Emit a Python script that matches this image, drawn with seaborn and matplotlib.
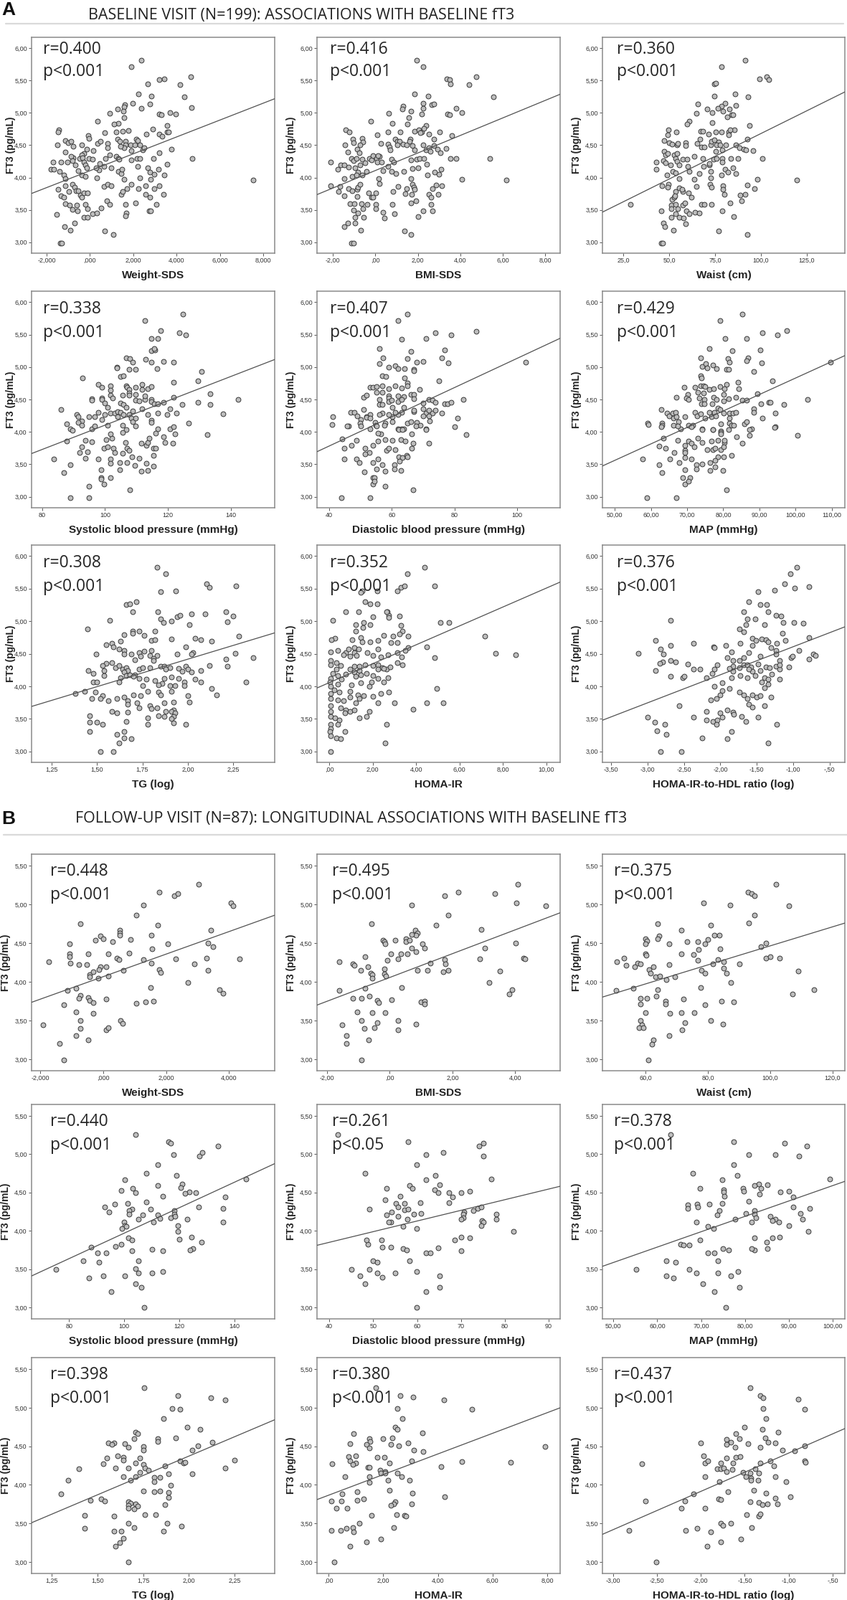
import numpy as np
import matplotlib
matplotlib.use("Agg")
import matplotlib.pyplot as plt
from matplotlib.lines import Line2D
import seaborn as sns

# ---------------- data: (x, fT3) per panel ----------------
# A: baseline visit
a_weight_sds = [(2.36,5.82),(1.92,5.72),(3.44,5.53),(3.21,5.51),(4.65,5.56),(2.67,5.45),(4.15,5.44),(2.25,5.29),(2.84,5.26),(4.36,5.25),
    (1.97,5.15),(2.77,5.14),(1.62,5.13),(1.57,5.09),(2.36,5.07),(4.69,5.08),(1.29,5.06),(1.55,5.03),(0.90,4.99),(3.19,4.98),
    (3.30,4.97),(3.69,5.01),(3.95,4.98),(1.57,4.93),(0.35,4.87),(1.30,4.84),(1.10,4.83),(2.90,4.75),(1.76,4.73),(1.52,4.72),
    (1.21,4.70),(3.57,4.80),(3.57,4.71),(3.63,4.70),(0.68,4.69),(2.60,4.67),(3.21,4.67),(3.34,4.64),(-1.43,4.74),(-1.48,4.70),
    (3.76,4.44),(3.55,4.21),(4.73,4.30),(7.53,3.96),(-1.51,4.50),(-1.13,4.57),(-1.0,4.54),(-0.88,4.56),(-0.77,4.48),(-0.38,4.51),
    (-0.16,4.44),(-1.13,4.39),(-0.09,4.65),(-0.05,4.61),(0.14,4.42),(0.35,4.53),(0.47,4.56),(0.80,4.53),(0.82,4.46),(1.27,4.59),
    (1.37,4.56),(1.63,4.56),(1.65,4.50),(1.58,4.46),(1.41,4.48),(1.87,4.50),(2.07,4.50),(2.15,4.59),(2.22,4.57),(2.31,4.50),
    (2.42,4.43),(2.51,4.46),(1.89,4.42),(3.19,4.38),(-1.69,4.24),(-1.34,4.24),(-1.04,4.24),(-0.77,4.31),(-0.88,4.33),(-0.82,4.26),
    (-0.66,4.19),(-0.55,4.11),(-0.49,4.30),(-0.27,4.37),(-0.38,4.35),(-0.33,4.31),(-0.27,4.24),(-0.22,4.19),(-0.14,4.15),(-0.05,4.30),
    (0.11,4.28),(0.44,4.22),(0.42,4.12),(0.27,4.15),(0.66,4.17),(0.70,4.30),(0.93,4.35),(1.21,4.33),(1.30,4.30),(1.34,4.28),
    (-1.79,4.13),(-1.68,4.13),(-1.40,4.10),(-1.19,4.04),(-1.13,3.98),(-0.38,4.04),(-0.20,4.02),(0.33,4.00),(0.99,4.15),(1.30,4.09),
    (1.43,4.06),(1.48,4.13),(1.57,3.97),(1.92,4.27),(2.16,4.29),(2.31,4.29),(2.20,4.17),(2.66,4.15),(2.75,4.08),(2.93,4.30),
    (2.97,4.05),(3.16,4.13),(3.44,4.04),(2.31,3.99),(2.80,3.97),(-1.46,3.82),(-1.13,3.87),(-0.82,3.89),(-0.71,3.85),(-0.63,3.80),
    (-0.53,3.80),(-1.32,3.72),(-1.21,3.69),(-0.97,3.78),(-0.44,3.73),(-0.38,3.69),(-0.27,3.76),(-0.11,3.76),(-1.13,3.60),(-0.93,3.57),
    (-0.60,3.57),(-0.22,3.59),(-0.79,3.51),(-0.57,3.48),(-0.11,3.52),(-1.54,3.43),(-0.27,3.39),(-0.11,3.38),(0.13,3.44),(0.33,3.45),
    (0.53,3.53),(0.66,3.86),(0.82,3.89),(0.99,3.87),(0.79,3.64),(0.90,3.59),(1.43,3.74),(1.52,3.78),(1.70,3.83),(1.90,3.89),
    (1.63,3.59),(1.68,3.45),(1.63,3.41),(2.11,3.61),(2.25,3.83),(2.58,3.87),(2.58,3.74),(2.75,3.69),(2.97,3.83),(3.19,3.87),
    (3.38,3.74),(3.08,3.59),(2.72,3.49),(2.80,3.49),(-1.16,3.24),(-0.92,3.19),(-0.69,3.30),(0.68,3.17),(1.08,3.12),(-1.37,2.99),(-1.29,2.99)]

a_bmi_sds = [(1.93,5.82),(2.24,5.72),(3.38,5.53),(3.51,5.51),(3.53,5.45),(4.40,5.44),(4.76,5.56),(5.55,5.25),(1.85,5.29),(2.50,5.26),
    (2.26,5.15),(2.26,5.07),(2.65,5.13),(2.76,5.14),(1.29,5.10),(1.28,5.06),(1.66,5.03),(1.57,4.93),(2.17,4.98),(0.64,4.99),
    (-0.20,4.87),(3.39,4.98),(3.51,4.97),(3.80,5.07),(4.06,5.01),(1.49,4.83),(0.80,4.84),(-1.39,4.74),(-1.22,4.70),(1.86,4.72),
    (2.06,4.74),(2.19,4.71),(2.38,4.81),(2.28,4.76),(2.10,4.69),(2.51,4.67),(3.02,4.71),(3.60,4.65),(3.32,4.45),(1.18,4.71),
    (0.59,4.70),(0.10,4.66),(-1.05,4.59),(-1.02,4.54),(-0.61,4.61),(-0.60,4.55),(-0.71,4.50),(-0.86,4.44),(-1.42,4.50),(-1.29,4.39),
    (-0.75,4.38),(0.25,4.53),(0.61,4.52),(0.67,4.47),(0.92,4.59),(1.03,4.56),(1.14,4.56),(1.02,4.50),(0.70,4.43),(1.31,4.52),
    (1.46,4.50),(1.63,4.59),(1.60,4.56),(1.74,4.49),(1.83,4.43),(2.25,4.50),(2.38,4.43),(2.51,4.46),(2.59,4.41),(2.76,4.49),
    (2.76,4.59),(2.93,4.44),(3.05,4.38),(-2.10,4.24),(-1.76,4.13),(-1.63,4.19),(-1.45,4.19),(-1.28,4.16),(-1.14,4.30),(-1.03,4.26),
    (-0.97,4.15),(-0.90,4.29),(-0.82,4.08),(-0.63,4.28),(-0.50,4.23),(-0.71,4.19),(-0.41,4.09),(-0.27,4.30),(-0.18,4.27),(-0.12,4.34),
    (0.05,4.30),(0.19,4.33),(0.12,4.34),(0.08,4.24),(0.29,4.24),(0.36,4.11),(0.59,4.17),(0.76,4.28),(0.87,4.24),(0.75,4.09),
    (0.95,4.06),(1.34,4.10),(1.68,4.27),(1.73,4.14),(1.94,4.28),(2.08,4.30),(2.27,4.30),(2.00,4.15),(2.42,4.21),(2.46,4.04),
    (2.80,4.08),(2.98,4.05),(3.08,4.13),(3.53,4.29),(3.81,4.30),(5.39,4.30),(6.18,3.96),(4.06,3.97),(-2.10,3.87),(-1.67,3.86),
    (-1.72,3.78),(-1.45,3.72),(-1.45,3.98),(-1.28,3.83),(-1.08,3.80),(-0.86,3.82),(-0.84,3.85),(-0.72,3.90),(-1.08,4.02),(-0.88,4.04),
    (-0.63,4.04),(0.16,3.98),(0.19,3.91),(-0.32,3.76),(-0.18,3.69),(0.01,3.76),(-0.12,3.70),(0.84,3.78),(1.06,3.86),(1.40,3.75),
    (1.68,3.98),(1.73,3.89),(1.80,3.85),(1.46,3.83),(1.71,3.74),(1.85,3.82),(2.53,3.74),(2.61,3.69),(2.70,3.83),(2.85,3.88),
    (2.96,3.74),(3.12,3.87),(-1.18,3.60),(-1.00,3.60),(-0.86,3.71),(-1.03,3.50),(-0.95,3.39),(-0.67,3.60),(-0.60,3.52),(-0.81,3.45),
    (-0.54,3.39),(-0.37,3.59),(0.01,3.59),(0.02,3.52),(0.36,3.46),(0.41,3.37),(0.81,3.59),(0.89,3.44),(1.68,3.61),(1.91,3.64),
    (2.00,3.40),(2.25,3.49),(2.63,3.59),(2.70,3.49),(-1.45,3.24),(-1.31,3.30),(-0.95,3.30),(-0.69,3.19),(1.37,3.17),(1.68,3.12),
    (-1.14,2.99),(-1.02,2.99)]

a_waist = [(91.4,5.82),(78.6,5.72),(99.3,5.53),(103.3,5.56),(104.2,5.51),(74.5,5.45),(75.3,5.46),(86.1,5.29),(74.6,5.26),(93.0,5.25),
    (65.6,5.14),(80.4,5.15),(86.5,5.12),(78.4,5.11),(79.2,5.03),(76.4,5.07),(70.6,5.06),(73.6,5.01),(64.7,4.99),(82.7,5.06),
    (83.9,4.97),(84.6,4.97),(81.6,4.94),(61.1,4.87),(59.8,4.83),(73.4,4.85),(49.7,4.74),(53.8,4.70),(67.3,4.72),(68.5,4.72),
    (71.6,4.67),(75.4,4.71),(78.6,4.70),(82.6,4.70),(85.6,4.74),(83.4,4.74),(82.3,4.66),(93.7,4.80),(92.5,4.59),(49.1,4.66),
    (47.4,4.57),(50.1,4.54),(51.6,4.52),(54.2,4.50),(54.7,4.53),(58.9,4.54),(58.9,4.49),(66.7,4.59),(67.7,4.47),(65.1,4.53),
    (69.0,4.47),(72.5,4.50),(73.2,4.56),(74.8,4.58),(76.8,4.55),(75.8,4.51),(75.4,4.41),(77.9,4.51),(79.0,4.43),(80.9,4.50),
    (86.3,4.50),(88.2,4.46),(90.5,4.44),(91.8,4.43),(95.7,4.42),(100.6,4.30),(47.1,4.41),(47.9,4.35),(49.4,4.37),(52.7,4.35),
    (54.5,4.37),(42.8,4.24),(42.9,4.13),(46.7,4.26),(48.0,4.23),(50.8,4.20),(53.6,4.30),(54.5,4.25),(55.3,4.19),(57.6,4.28),
    (59.9,4.28),(60.2,4.17),(61.1,4.10),(63.8,4.33),(68.5,4.30),(68.9,4.17),(72.0,4.19),(72.5,4.10),(71.7,4.22),(74.4,4.28),
    (75.8,4.29),(79.1,4.30),(79.1,4.24),(80.4,4.13),(82.1,4.08),(83.6,4.30),(84.6,4.15),(87.5,4.29),(86.5,4.06),(48.7,4.04),
    (52.0,4.09),(53.4,4.07),(55.6,3.98),(63.8,3.97),(66.4,4.06),(72.5,3.99),(78.4,4.04),(98.2,3.97),(119.7,3.96),(29.1,3.59),
    (46.1,3.87),(49.7,3.90),(49.3,3.85),(53.6,3.78),(55.6,3.84),(57.3,3.78),(56.9,3.82),(60.4,3.76),(62.1,3.70),(64.7,3.86),
    (72.3,3.90),(73.2,3.85),(79.4,3.87),(79.4,3.82),(80.1,3.74),(88.5,3.73),(91.4,3.74),(92.4,3.88),(96.3,3.83),(51.6,3.66),
    (52.9,3.70),(53.1,3.72),(51.3,3.57),(53.6,3.59),(57.5,3.57),(58.5,3.61),(45.8,3.49),(51.3,3.52),(54.7,3.52),(59.2,3.49),
    (60.9,3.44),(51.0,3.39),(53.4,3.44),(55.3,3.39),(57.9,3.37),(64.2,3.46),(66.4,3.45),(67.4,3.59),(69.0,3.59),(73.2,3.59),
    (79.0,3.49),(83.3,3.61),(85.2,3.40),(89.5,3.64),(58.9,3.29),(46.7,3.30),(47.7,3.24),(52.3,3.19),(76.8,3.17),(92.4,3.12),
    (45.6,2.99),(46.4,2.99)]

a_systolic = [(124.7,5.82),(112.7,5.72),(117.7,5.56),(123.6,5.53),(125.6,5.50),(114.7,5.44),(116.7,5.44),(114.7,5.25),(115.8,5.26),(115.7,5.29),
    (106.7,5.14),(107.8,5.13),(108.7,5.07),(112.8,5.12),(114.7,5.07),(118.7,5.09),(121.7,5.07),(103.8,5.00),(103.8,4.99),(107.7,4.97),
    (109.7,4.97),(116.6,4.98),(130.6,4.93),(104.8,4.85),(105.8,4.87),(92.9,4.83),(129.6,4.79),(121.7,4.76),(97.8,4.73),(98.9,4.69),
    (101.7,4.71),(101.7,4.64),(101.7,4.57),(106.7,4.71),(106.9,4.69),(107.7,4.66),(107.7,4.60),(107.7,4.57),(109.7,4.69),(111.7,4.73),
    (111.7,4.66),(113.7,4.67),(114.7,4.70),(105.7,4.57),(109.7,4.58),(95.8,4.51),(95.8,4.49),(98.9,4.52),(98.9,4.50),(99.8,4.45),
    (102.5,4.52),(100.8,4.38),(104.8,4.44),(105.8,4.42),(106.8,4.38),(109.7,4.49),(110.8,4.48),(112.7,4.50),(112.7,4.55),(114.7,4.50),
    (114.7,4.47),(111.7,4.36),(115.7,4.43),(116.7,4.43),(118.7,4.46),(121.7,4.53),(124.6,4.42),(120.7,4.36),(133.5,4.59),(129.5,4.46),
    (133.4,4.42),(142.4,4.50),(137.6,4.28),(85.9,4.34),(90.9,4.27),(91.5,4.24),(92.6,4.17),(91.5,4.15),(92.6,4.10),(94.9,4.24),
    (95.8,4.05),(96.8,4.09),(97.8,4.30),(99.8,4.27),(98.9,4.19),(96.8,4.24),(101.7,4.29),(103.0,4.29),(103.9,4.31),(104.8,4.30),
    (103.9,4.24),(105.8,4.27),(108.7,4.32),(107.7,4.27),(108.3,4.21),(108.7,4.16),(109.7,4.21),(109.7,4.09),(113.7,4.27),(114.7,4.18),
    (114.7,4.15),(116.7,4.29),(116.7,4.05),(119.7,4.27),(120.7,4.05),(121.7,4.08),(122.7,4.29),(126.6,4.13),(87.7,4.12),(89.0,4.05),
    (100.8,4.10),(105.7,4.10),(106.7,4.04),(89.7,4.02),(87.7,3.86),(93.7,3.87),(95.8,3.85),(92.6,3.77),(91.9,3.68),(94.3,3.69),
    (83.7,3.58),(93.7,3.59),(97.8,3.58),(99.7,3.75),(100.9,3.77),(102.1,3.90),(101.8,3.97),(100.4,3.88),(102.6,3.75),(103.1,3.68),
    (105.7,3.67),(106.5,3.84),(107.0,3.75),(107.7,3.71),(105.7,3.99),(108.6,3.62),(107.0,3.53),(104.7,3.53),(101.8,3.58),(101.8,3.52),
    (110.8,3.59),(111.5,3.82),(113.2,3.79),(113.7,3.84),(114.1,3.90),(115.5,3.75),(116.1,3.75),(115.3,3.64),(113.2,3.52),(115.5,3.47),
    (118.5,3.92),(119.1,3.84),(121.5,3.83),(122.3,3.97),(132.6,3.96),(116.1,3.98),(88.9,3.49),(109.5,3.48),(86.8,3.37),(98.7,3.42),
    (104.7,3.42),(111.5,3.39),(113.7,3.40),(98.7,3.30),(98.7,3.27),(101.8,3.29),(99.7,3.19),(94.9,3.16),(107.8,3.11),(88.9,2.98),
    (94.9,2.98)]

a_diastolic = [(65.0,5.82),(62.0,5.72),(63.0,5.43),(71.0,5.44),(73.9,5.53),(78.9,5.50),(86.9,5.55),(102.8,5.07),(56.0,5.29),(66.0,5.24),
    (57.1,5.14),(64.9,5.13),(67.9,5.07),(70.0,5.09),(76.8,5.26),(75.9,5.14),(78.0,5.06),(56.0,5.05),(58.9,5.00),(61.0,5.02),
    (62.0,4.98),(64.0,4.98),(67.1,4.97),(67.1,4.94),(74.9,4.79),(57.0,4.87),(58.0,4.85),(64.0,4.83),(53.0,4.69),(54.0,4.69),
    (55.1,4.70),(57.0,4.71),(58.9,4.67),(61.0,4.71),(63.0,4.68),(65.0,4.75),(65.0,4.71),(68.9,4.66),(55.1,4.61),(57.0,4.61),
    (50.9,4.53),(51.9,4.57),(56.1,4.50),(56.1,4.42),(57.0,4.42),(58.9,4.56),(58.9,4.52),(58.9,4.47),(60.0,4.49),(60.1,4.38),
    (62.0,4.47),(62.0,4.55),(63.9,4.54),(63.0,4.50),(66.0,4.58),(67.1,4.58),(66.9,4.51),(70.0,4.44),(70.0,4.36),(71.9,4.50),
    (72.9,4.49),(73.9,4.46),(76.8,4.43),(77.8,4.43),(78.9,4.46),(82.8,4.50),(71.0,4.29),(71.9,4.33),(72.9,4.29),(73.9,4.33),
    (75.9,4.29),(71.9,4.25),(70.0,4.25),(67.1,4.31),(67.1,4.33),(63.9,4.38),(63.0,4.30),(62.0,4.27),(61.0,4.30),(60.1,4.24),
    (58.9,4.27),(57.0,4.29),(56.1,4.27),(53.0,4.27),(52.0,4.24),(50.9,4.34),(46.9,4.30),(47.9,4.30),(48.9,4.25),(50.0,4.19),
    (49.8,4.13),(52.0,4.22),(53.0,4.21),(54.7,4.15),(54.9,4.10),(57.9,4.14),(60.1,4.16),(62.0,4.05),(63.0,4.05),(63.9,4.05),
    (65.0,4.14),(66.0,4.16),(67.9,4.15),(69.1,4.10),(71.0,4.05),(72.0,4.17),(80.9,4.21),(80.0,4.08),(41.1,4.24),(46.1,4.09),
    (53.0,4.05),(40.9,4.11),(45.7,4.09),(50.0,4.09),(55.1,4.09),(57.6,4.10),(62.1,4.04),(63.3,4.04),(67.8,4.09),(71.0,4.04),
    (83.8,3.96),(44.1,3.89),(48.7,3.87),(44.9,3.75),(47.0,3.79),(51.5,3.75),(53.9,3.79),(55.6,3.86),(56.5,3.97),(57.8,3.88),
    (60.2,3.87),(61.1,3.73),(58.2,3.72),(59.1,3.75),(62.8,3.88),(64.2,3.86),(66.3,3.97),(66.3,3.75),(66.7,3.83),(71.9,3.82),
    (55.6,3.98),(52.7,3.68),(51.4,3.66),(44.9,3.58),(48.7,3.58),(49.6,3.53),(53.9,3.53),(55.6,3.58),(62.1,3.62),(63.3,3.60),
    (64.6,3.64),(65.0,3.61),(62.5,3.55),(60.8,3.49),(57.0,3.49),(51.3,3.38),(55.1,3.43),(57.8,3.39),(60.8,3.43),(62.8,3.40),
    (53.9,3.29),(54.4,3.29),(53.9,3.20),(54.4,3.24),(57.8,3.16),(66.8,3.11),(43.9,2.98),(53.0,2.98)]

a_map = [(85.2,5.82),(79.1,5.72),(90.8,5.53),(94.9,5.50),(97.5,5.56),(80.4,5.44),(86.5,5.44),(76.2,5.29),(82.5,5.25),(90.2,5.26),
    (73.7,5.14),(81.2,5.13),(81.7,5.07),(86.8,5.14),(86.5,5.10),(90.6,5.06),(109.6,5.07),(74.1,5.01),(75.1,5.05),(75.5,4.99),
    (77.1,5.03),(78.1,4.98),(80.8,4.96),(81.5,4.96),(88.5,4.93),(73.7,4.87),(73.9,4.83),(93.6,4.79),(84.1,4.76),(69.1,4.69),
    (72.1,4.69),(73.8,4.71),(74.5,4.71),(74.9,4.70),(76.2,4.66),(77.3,4.67),(79.1,4.70),(80.8,4.73),(80.3,4.67),(84.2,4.67),
    (72.9,4.61),(74.6,4.60),(70.2,4.58),(69.7,4.52),(70.4,4.50),(67.1,4.53),(73.4,4.52),(74.8,4.50),(73.9,4.43),(74.8,4.43),
    (77.3,4.53),(78.2,4.50),(77.0,4.43),(80.1,4.58),(80.1,4.48),(81.4,4.51),(83.5,4.53),(85.3,4.49),(86.5,4.49),(89.5,4.59),
    (90.4,4.43),(92.5,4.46),(92.9,4.46),(96.8,4.42),(103.3,4.50),(62.8,4.34),(64.5,4.29),(65.0,4.25),(66.1,4.29),(66.9,4.30),
    (66.2,4.21),(67.1,4.24),(67.6,4.16),(69.4,4.24),(72.1,4.30),(72.7,4.25),(73.7,4.28),(74.9,4.21),(76.1,4.30),(76.7,4.24),
    (77.6,4.30),(77.9,4.25),(78.6,4.37),(79.1,4.34),(80.1,4.29),(81.6,4.29),(82.6,4.29),(83.5,4.30),(81.7,4.21),(88.5,4.36),
    (88.5,4.30),(90.8,4.21),(94.3,4.29),(59.0,4.13),(63.1,4.13),(63.1,4.10),(66.3,4.10),(68.3,4.05),(70.3,4.10),(71.6,4.10),
    (74.1,4.05),(77.1,4.04),(79.4,4.12),(79.4,4.01),(81.6,4.14),(82.2,4.10),(82.8,4.10),(85.8,4.12),(86.5,4.16),(87.8,4.05),
    (94.3,4.08),(59.2,4.11),(62.9,4.08),(67.4,4.09),(71.1,4.08),(74.1,4.04),(77.1,4.04),(79.3,3.99),(79.3,3.97),(81.5,4.03),
    (87.2,4.04),(94.2,4.07),(100.6,3.95),(87.2,3.95),(63.4,3.90),(67.4,3.87),(70.4,3.86),(71.1,3.83),(72.9,3.90),(74.1,3.84),
    (76.8,3.86),(78.6,3.87),(80.3,3.84),(80.3,3.87),(83.7,3.92),(85.2,3.82),(62.2,3.78),(64.1,3.75),(66.4,3.68),(69.3,3.79),
    (69.3,3.72),(69.3,3.68),(71.9,3.77),(75.6,3.73),(77.1,3.73),(77.8,3.75),(79.3,3.73),(80.1,3.77),(78.6,3.62),(80.1,3.61),
    (82.3,3.64),(57.7,3.58),(65.2,3.58),(67.9,3.53),(69.3,3.60),(71.1,3.58),(72.6,3.49),(74.1,3.50),(77.8,3.56),(76.3,3.53),
    (62.2,3.49),(63.1,3.37),(69.3,3.42),(68.9,3.29),(70.8,3.29),(69.3,3.20),(70.3,3.24),(72.6,3.43),(76.3,3.40),(77.8,3.46),
    (80.0,3.40),(80.8,3.11),(58.9,2.98),(67.0,2.98)]

a_tg_log = [(1.829,5.83),(1.879,5.73),(1.852,5.45),(1.932,5.46),(2.105,5.58),(2.12,5.52),(2.265,5.54),(1.66,5.25),(1.68,5.27),(1.716,5.30),
    (1.695,5.14),(1.835,5.15),(1.85,5.04),(1.866,4.98),(1.91,5.00),(1.94,5.07),(1.956,5.09),(2.02,5.11),(2.096,5.11),(2.21,5.14),
    (2.25,5.08),(2.22,4.99),(1.568,5.01),(1.446,4.88),(1.695,4.85),(1.73,4.85),(1.82,4.85),(2.01,4.95),(2.28,4.77),(1.65,4.79),
    (1.695,4.81),(1.76,4.78),(1.80,4.70),(1.82,4.72),(1.91,4.73),(2.04,4.74),(2.07,4.71),(2.13,4.69),(1.55,4.64),(1.58,4.66),
    (1.63,4.69),(1.59,4.60),(1.62,4.57),(1.65,4.55),(1.69,4.49),(1.65,4.49),(1.73,4.52),(1.74,4.46),(1.76,4.54),(1.80,4.55),
    (1.79,4.47),(1.83,4.47),(1.81,4.43),(1.71,4.41),(1.99,4.61),(2.03,4.52),(2.02,4.49),(1.94,4.50),(2.21,4.42),(2.26,4.51),
    (2.36,4.44),(1.496,4.50),(1.55,4.35),(1.53,4.32),(1.58,4.36),(1.60,4.29),(1.62,4.32),(1.64,4.26),(1.66,4.29),(1.67,4.24),
    (1.65,4.22),(1.66,4.16),(1.68,4.18),(1.71,4.18),(1.73,4.26),(1.75,4.29),(1.79,4.29),(1.81,4.39),(1.85,4.31),(1.87,4.31),
    (1.90,4.29),(1.88,4.26),(1.95,4.27),(1.99,4.31),(2.00,4.26),(2.02,4.22),(1.97,4.23),(2.07,4.24),(2.12,4.32),(2.22,4.31),
    (1.54,4.16),(1.48,4.06),(1.50,4.06),(1.45,4.24),(1.48,4.20),(1.54,4.24),(1.63,4.13),(1.62,4.07),(1.70,4.15),(1.73,4.12),
    (1.77,4.11),(1.82,4.09),(1.86,4.04),(1.87,4.12),(1.91,4.14),(1.95,4.12),(1.98,4.06),(2.04,4.11),(2.07,4.07),(2.32,4.07),
    (2.13,3.97),(2.16,3.87),(1.38,3.89),(1.43,3.92),(1.49,3.91),(1.53,3.85),(1.47,3.81),(1.52,3.81),(1.56,3.78),(1.61,3.81),
    (1.65,3.83),(1.70,3.87),(1.67,3.78),(1.72,3.75),(1.67,3.72),(1.75,4.01),(1.74,3.85),(1.78,3.92),(1.84,4.02),(1.84,3.91),
    (1.85,3.87),(1.90,4.01),(1.91,3.92),(1.93,4.01),(1.98,4.01),(2.00,3.85),(2.01,3.76),(1.92,3.76),(1.87,3.74),(1.79,3.70),
    (1.83,3.67),(1.73,3.67),(1.92,3.63),(1.91,3.61),(1.88,3.61),(1.93,3.59),(1.92,3.54),(1.87,3.54),(1.84,3.55),(1.80,3.66),
    (1.78,3.51),(1.78,3.41),(1.91,3.50),(1.92,3.44),(1.99,3.41),(1.67,3.60),(1.61,3.59),(1.58,3.61),(1.66,3.46),(1.53,3.41),
    (1.46,3.55),(1.46,3.45),(1.50,3.45),(1.46,3.30),(1.61,3.26),(1.65,3.30),(1.65,3.20),(1.69,3.19),(1.62,3.13),(1.52,3.00),
    (1.59,3.00)]

a_homa_ir = [(4.39,5.83),(3.60,5.73),(3.30,5.52),(3.47,5.54),(4.86,5.54),(3.13,5.47),(1.51,5.46),(2.21,5.46),(1.64,5.30),(1.89,5.27),
    (2.21,5.27),(1.44,5.44),(0.77,5.15),(1.34,5.15),(2.01,5.07),(2.68,5.15),(2.75,5.09),(3.25,5.08),(2.73,5.06),(0.15,5.01),
    (1.59,4.98),(1.89,4.95),(1.22,4.95),(1.56,4.90),(1.22,4.85),(5.11,4.98),(5.53,4.98),(3.37,4.85),(3.30,4.94),(2.65,5.14),
    (7.17,4.77),(2.93,4.77),(2.83,4.67),(0.27,4.74),(0.10,4.72),(1.07,4.72),(1.46,4.75),(1.51,4.68),(2.26,4.70),(1.89,4.68),
    (2.51,4.78),(3.25,4.80),(3.62,4.77),(3.13,4.67),(3.62,4.59),(4.49,4.61),(3.50,4.55),(0.07,4.53),(0.40,4.55),(0.77,4.52),
    (0.89,4.57),(1.14,4.59),(1.34,4.57),(1.14,4.52),(0.65,4.48),(0.97,4.46),(1.27,4.47),(1.76,4.52),(2.01,4.47),(2.26,4.57),
    (2.38,4.45),(2.70,4.48),(3.13,4.52),(3.33,4.45),(4.86,4.44),(7.67,4.51),(8.59,4.48),(0.07,4.39),(0.07,4.33),(0.32,4.26),
    (0.52,4.32),(0.32,4.36),(0.15,4.20),(0.40,4.16),(0.77,4.19),(1.14,4.31),(1.39,4.31),(1.64,4.33),(2.01,4.32),(2.26,4.33),
    (2.46,4.29),(2.63,4.26),(2.80,4.30),(3.13,4.36),(3.37,4.33),(0.97,4.26),(1.14,4.22),(1.39,4.24),(1.46,4.18),(1.71,4.20),
    (2.01,4.16),(2.26,4.26),(2.51,4.27),(1.22,4.15),(0.57,4.11),(0.07,4.12),(0.02,4.06),(0.40,4.03),(0.07,4.00),(1.02,4.02),
    (1.46,4.05),(1.96,4.07),(2.26,4.12),(2.70,4.13),(2.51,4.07),(1.84,4.00),(0.22,3.94),(0.07,3.89),(0.47,3.91),(0.97,3.92),
    (1.32,3.87),(1.59,3.86),(2.38,3.89),(2.75,3.91),(4.94,3.97),(0.07,3.81),(0.40,3.79),(0.65,3.78),(0.97,3.83),(1.22,3.75),
    (1.39,3.81),(2.01,3.84),(2.26,3.75),(3.00,3.75),(4.49,3.75),(5.24,3.75),(0.07,3.70),(0.52,3.67),(0.77,3.64),(0.72,3.59),
    (0.97,3.61),(1.14,3.63),(1.84,3.61),(0.07,3.61),(3.87,3.65),(0.07,3.54),(0.27,3.51),(0.47,3.48),(1.39,3.51),(1.71,3.54),
    (0.07,3.41),(0.40,3.41),(0.07,3.35),(0.02,3.30),(0.07,3.24),(0.72,3.30),(0.32,3.20),(0.52,3.19),(2.63,3.41),(2.56,3.13),
    (0.07,3.00)]

a_homa_hdl_log = [(-0.95,5.83),(-1.04,5.73),(-1.12,5.58),(-0.78,5.53),(-0.98,5.51),(-1.26,5.48),(-1.48,5.45),(-1.61,5.30),(-1.45,5.26),(-1.36,5.26),
    (-1.68,5.15),(-1.34,5.14),(-1.24,5.09),(-1.17,5.08),(-2.68,5.01),(-1.63,5.04),(-1.52,5.03),(-1.14,4.98),(-0.99,4.98),(-0.86,4.97),
    (-1.65,4.95),(-1.74,4.88),(-1.68,4.84),(-1.39,4.95),(-2.37,4.66),(-2.89,4.70),(-3.13,4.51),(-2.82,4.57),(-2.78,4.50),(-2.68,4.63),
    (-2.62,4.37),(-2.79,4.37),(-2.83,4.35),(-2.68,4.40),(-2.89,4.24),(-2.68,4.15),(-2.52,4.13),(-2.50,4.15),(-2.37,4.26),(-2.28,4.26),
    (-2.45,4.34),(-2.19,4.13),(-2.11,4.20),(-2.08,4.26),(-2.04,4.33),(-2.09,4.61),(-2.08,4.59),(-1.93,4.63),(-1.85,4.53),(-1.91,4.44),
    (-1.83,4.40),(-1.74,4.39),(-1.68,4.44),(-1.61,4.52),(-1.56,4.63),(-1.73,4.66),(-1.56,4.74),(-1.51,4.70),(-1.43,4.73),(-1.37,4.71),
    (-1.34,4.68),(-1.30,4.59),(-1.23,4.66),(-1.15,4.81),(-1.11,4.70),(-1.24,4.55),(-1.45,4.46),(-1.24,4.50),(-1.19,4.39),(-1.03,4.44),
    (-1.01,4.46),(-0.92,4.55),(-0.78,4.42),(-0.78,4.75),(-0.72,4.50),(-0.69,4.47),(-1.68,4.33),(-1.63,4.33),(-1.58,4.30),(-1.74,4.29),
    (-1.83,4.31),(-1.88,4.27),(-1.83,4.23),(-1.56,4.23),(-1.61,4.26),(-1.73,4.16),(-1.63,4.13),(-1.52,4.16),(-1.48,4.34),(-1.45,4.24),
    (-1.37,4.30),(-1.32,4.28),(-1.24,4.31),(-1.19,4.26),(-1.29,4.19),(-1.39,4.13),(-1.43,4.07),(-1.34,4.11),(-1.19,4.11),(-1.34,4.03),
    (-1.39,3.98),(-1.19,4.33),(-1.06,4.30),(-1.85,4.13),(-1.97,4.05),(-2.08,4.00),(-1.88,3.97),(-1.74,3.91),(-1.68,3.87),(-1.63,3.81),
    (-1.56,3.87),(-1.50,3.83),(-1.45,3.85),(-1.61,3.72),(-1.56,3.68),(-1.39,3.70),(-1.30,3.83),(-1.97,3.93),(-2.00,3.87),(-2.05,3.81),
    (-2.13,3.79),(-1.91,3.63),(-1.83,3.60),(-2.00,3.59),(-2.19,3.61),(-2.57,3.70),(-3.00,3.52),(-2.90,3.45),(-2.76,3.41),(-2.87,3.32),
    (-2.74,3.26),(-2.37,3.52),(-2.19,3.48),(-2.10,3.46),(-2.04,3.48),(-1.97,3.52),(-1.82,3.57),(-1.71,3.54),(-1.65,3.46),(-1.48,3.52),
    (-2.05,3.41),(-1.85,3.30),(-2.25,3.20),(-1.91,3.19),(-1.34,3.13),(-1.23,3.41),(-2.82,3.00),(-2.54,3.00)]

# B: follow-up visit
b_weight_sds = [(3.03,5.26),(1.77,5.16),(2.25,5.11),(2.37,5.14),(1.28,4.99),(4.07,5.02),(4.12,4.98),(1.04,4.86),(-0.73,4.75),(1.73,4.73),
    (0.52,4.67),(0.52,4.63),(0.52,4.60),(1.53,4.60),(3.43,4.67),(-0.09,4.59),(0.0,4.56),(0.29,4.52),(-0.26,4.54),(0.87,4.55),
    (-1.07,4.49),(2.05,4.49),(3.34,4.50),(3.48,4.45),(1.56,4.43),(-1.07,4.36),(-1.07,4.32),(-0.49,4.36),(0.17,4.36),(0.43,4.31),
    (0.81,4.37),(0.50,4.29),(1.27,4.29),(2.30,4.30),(3.29,4.31),(4.33,4.30),(-1.73,4.26),(-1.04,4.24),(-0.78,4.22),(-0.52,4.22),
    (-0.09,4.19),(-0.14,4.16),(0.09,4.19),(0.64,4.15),(1.79,4.16),(1.53,4.24),(1.82,4.12),(2.89,4.23),(3.34,4.15),(-0.43,4.09),
    (-0.43,4.06),(-0.17,4.05),(0.17,4.07),(-0.31,4.13),(2.69,3.99),(-1.13,3.89),(-0.87,3.92),(1.51,3.93),(3.69,3.90),(3.81,3.85),
    (-1.25,3.70),(-0.73,3.82),(-0.78,3.79),(-0.47,3.80),(-0.43,3.76),(-0.31,3.73),(0.09,3.78),(1.04,3.72),(1.35,3.74),(1.59,3.75),
    (-0.87,3.61),(-0.31,3.59),(0.55,3.50),(0.61,3.46),(-1.91,3.44),(-0.73,3.50),(-0.73,3.40),(-0.87,3.30),(-0.49,3.25),(0.09,3.38),
    (0.17,3.41),(-1.39,3.20),(-1.25,2.99)]

b_bmi_sds = [(4.07,5.26),(2.18,5.16),(1.76,5.11),(3.34,5.14),(0.69,4.99),(4.03,5.02),(4.97,4.98),(1.87,4.86),(1.47,4.73),(-0.59,4.75),
    (2.91,4.68),(0.81,4.67),(0.87,4.63),(0.83,4.60),(0.69,4.61),(0.52,4.56),(0.17,4.54),(-0.21,4.54),(-0.17,4.52),(-0.14,4.49),
    (0.52,4.52),(0.64,4.54),(1.04,4.49),(1.12,4.44),(4.01,4.50),(3.03,4.44),(-1.61,4.26),(-1.18,4.23),(-1.12,4.21),(-0.78,4.32),
    (-0.92,4.15),(-0.69,4.19),(-0.61,4.11),(-0.55,4.09),(-0.57,4.05),(-0.17,4.17),(-0.17,4.10),(-0.12,4.07),(-0.09,4.28),(0.03,4.36),
    (0.26,4.30),(0.35,4.36),(0.55,4.36),(0.69,4.44),(0.83,4.39),(0.87,4.15),(1.30,4.24),(1.76,4.29),(1.78,4.23),(1.21,4.15),
    (1.87,4.15),(1.70,4.13),(2.87,4.30),(4.26,4.31),(4.31,4.30),(3.52,4.14),(3.17,3.99),(3.89,3.90),(3.81,3.84),(-1.61,3.89),
    (-0.78,3.92),(-1.18,3.79),(-0.90,3.79),(-0.64,3.81),(-0.40,3.76),(-0.35,3.73),(0.05,3.77),(0.38,3.93),(1.00,3.74),(1.12,3.75),
    (1.12,3.71),(0.83,3.45),(0.26,3.50),(-0.14,3.60),(-0.55,3.60),(-1.04,3.61),(-0.90,3.50),(-0.40,3.47),(-0.81,3.40),(-1.53,3.44),
    (-1.38,3.30),(-1.38,3.20),(-0.67,3.25),(-0.48,3.41),(0.26,3.38),(-0.90,2.99)]

b_waist = [(101.9,5.26),(92.9,5.16),(94.1,5.14),(95.0,5.11),(78.7,5.02),(87.2,4.99),(105.9,4.98),(95.0,4.86),(93.1,4.76),(63.8,4.75),
    (80.8,4.73),(71.6,4.67),(64.3,4.59),(60.0,4.56),(60.5,4.53),(64.0,4.56),(67.5,4.49),(73.4,4.52),(76.8,4.52),(80.0,4.55),
    (79.1,4.49),(82.0,4.60),(83.7,4.60),(98.6,4.50),(96.9,4.45),(83.9,4.43),(53.1,4.31),(50.8,4.26),(53.9,4.21),(57.4,4.24),
    (56.5,4.19),(58.3,4.23),(60.0,4.49),(60.0,4.36),(60.3,4.34),(61.2,4.16),(62.6,4.19),(61.7,4.11),(63.1,4.06),(64.7,4.07),
    (67.5,4.22),(71.6,4.36),(75.3,4.35),(77.0,4.42),(76.8,4.28),(77.9,4.15),(79.1,4.11),(81.7,4.23),(83.1,4.29),(85.1,4.26),
    (85.1,4.18),(86.0,4.11),(90.0,4.23),(98.6,4.31),(99.9,4.32),(103.0,4.31),(109.0,4.14),(66.6,4.03),(69.5,4.06),(56.0,3.92),
    (50.5,3.89),(64.0,3.90),(87.4,3.99),(77.7,3.93),(107.2,3.84),(114.1,3.90),(58.3,3.79),(60.5,3.79),(63.5,3.81),(66.4,3.75),
    (66.4,3.71),(72.1,3.78),(79.1,3.70),(84.3,3.75),(88.2,3.74),(58.3,3.71),(60.0,3.60),(58.3,3.50),(58.8,3.44),(58.0,3.41),
    (59.2,3.41),(67.8,3.59),(71.6,3.60),(72.7,3.47),(75.6,3.60),(80.8,3.50),(84.8,3.45),(71.8,3.38),(67.5,3.30),(62.6,3.25),
    (62.1,3.19),(60.9,2.99)]

b_systolic = [(104.2,5.26),(116.0,5.16),(117.0,5.14),(134.1,5.11),(118.0,4.99),(127.2,4.98),(128.2,5.02),(112.1,4.86),(108.1,4.75),(144.2,4.68),
    (119.0,4.72),(100.3,4.67),(112.1,4.59),(121.0,4.61),(120.4,4.56),(103.2,4.55),(104.2,4.50),(98.9,4.53),(125.9,4.50),(123.6,4.51),
    (122.0,4.49),(114.1,4.45),(136.7,4.44),(93.0,4.31),(96.7,4.35),(101.3,4.36),(108.1,4.38),(102.8,4.28),(109.7,4.28),(101.7,4.26),
    (94.4,4.25),(126.9,4.31),(135.8,4.29),(101.7,4.22),(118.1,4.26),(118.1,4.22),(112.1,4.21),(116.8,4.17),(113.1,4.16),(122.9,4.15),
    (118.4,4.19),(110.5,4.11),(99.9,4.11),(100.3,4.07),(100.7,4.06),(106.6,4.21),(105.2,4.15),(135.8,4.11),(119.6,4.07),(99.3,4.03),
    (119.4,3.99),(120.1,3.89),(124.3,3.92),(128.1,3.85),(101.4,3.91),(102.9,3.88),(96.9,3.80),(98.9,3.82),(88.1,3.79),(90.4,3.71),
    (93.4,3.71),(102.9,3.74),(110.1,3.76),(114.1,3.74),(124.9,3.77),(123.9,3.75),(85.1,3.61),(90.8,3.59),(105.2,3.61),(75.3,3.50),
    (104.2,3.51),(105.2,3.45),(110.1,3.45),(114.0,3.47),(87.1,3.38),(92.4,3.41),(100.3,3.41),(104.2,3.31),(106.2,3.26),(95.4,3.21),
    (107.2,3.00)]

b_diastolic = [(42.0,5.26),(58.0,5.16),(75.1,5.14),(74.1,5.11),(75.1,4.98),(62.1,4.99),(66.0,5.02),(59.9,4.86),(48.1,4.75),(64.2,4.72),
    (76.9,4.68),(62.1,4.67),(58.3,4.59),(58.9,4.55),(53.1,4.55),(56.2,4.45),(64.0,4.54),(65.1,4.60),(64.8,4.50),(67.3,4.50),
    (72.0,4.52),(70.0,4.50),(68.1,4.44),(52.8,4.40),(55.2,4.36),(57.2,4.36),(60.7,4.37),(67.3,4.37),(49.1,4.28),(55.6,4.31),
    (57.2,4.27),(58.0,4.28),(54.2,4.25),(53.1,4.21),(57.8,4.15),(59.3,4.22),(55.6,4.19),(54.0,4.11),(53.5,4.11),(60.9,4.23),
    (73.8,4.29),(74.6,4.31),(72.8,4.26),(70.7,4.25),(70.5,4.22),(74.8,4.13),(75.1,4.11),(74.6,4.07),(70.5,4.17),(70.0,4.15),
    (78.1,4.22),(78.1,4.15),(81.9,3.99),(56.8,4.06),(59.9,4.03),(68.5,3.88),(70.0,3.92),(72.0,3.91),(48.8,3.82),(52.1,3.79),
    (54.0,3.79),(56.8,3.77),(57.7,3.75),(62.0,3.71),(63.0,3.71),(64.8,3.78),(48.5,3.88),(51.9,3.88),(70.0,3.74),(50.0,3.61),
    (51.0,3.59),(58.3,3.61),(45.1,3.50),(49.1,3.50),(50.9,3.45),(55.0,3.45),(59.9,3.47),(47.0,3.41),(52.1,3.39),(65.1,3.41),
    (48.1,3.31),(62.0,3.21),(65.1,3.26),(59.9,3.00)]

b_map = [(63.0,5.26),(77.4,5.16),(89.1,5.14),(94.1,5.11),(87.0,4.99),(80.9,4.99),(92.3,4.98),(77.4,4.86),(68.1,4.75),(78.3,4.72),
    (99.4,4.68),(74.8,4.67),(83.1,4.61),(82.2,4.59),(85.2,4.60),(79.5,4.55),(75.1,4.54),(83.6,4.55),(79.8,4.52),(69.8,4.55),
    (75.1,4.51),(83.3,4.48),(88.0,4.51),(90.1,4.52),(91.1,4.44),(80.9,4.39),(75.3,4.45),(67.0,4.34),(69.1,4.35),(71.9,4.35),
    (74.8,4.36),(66.9,4.29),(69.3,4.31),(74.1,4.26),(73.6,4.21),(82.2,4.26),(91.1,4.31),(94.8,4.29),(82.2,4.22),(77.8,4.15),
    (80.2,4.23),(82.5,4.17),(85.8,4.19),(87.0,4.15),(87.7,4.11),(86.2,4.13),(81.5,4.11),(71.6,4.06),(72.8,4.03),(68.9,4.11),
    (90.1,4.07),(92.6,4.23),(93.2,4.15),(94.4,3.99),(69.8,3.88),(87.9,3.92),(86.2,3.91),(82.2,3.91),(85.0,3.85),(85.2,3.77),
    (82.2,3.75),(81.5,3.77),(76.3,3.75),(75.0,3.77),(71.6,3.71),(73.1,3.71),(65.4,3.82),(66.0,3.81),(67.3,3.81),(62.0,3.61),
    (64.2,3.59),(73.8,3.61),(55.2,3.50),(67.3,3.50),(68.9,3.45),(73.8,3.45),(78.4,3.47),(62.0,3.41),(63.7,3.38),(76.8,3.41),
    (70.4,3.31),(73.1,3.21),(78.8,3.26),(75.7,3.00)]

b_tg_log = [(1.754,5.26),(1.94,5.16),(2.12,5.13),(2.20,5.10),(1.91,4.99),(1.95,4.98),(1.86,4.86),(1.99,4.75),(2.06,4.72),(1.71,4.68),
    (1.72,4.66),(1.83,4.60),(1.93,4.61),(1.83,4.56),(1.70,4.60),(1.56,4.54),(1.59,4.54),(1.58,4.52),(1.65,4.53),(1.67,4.49),
    (1.75,4.50),(1.75,4.45),(2.13,4.55),(2.05,4.51),(2.02,4.45),(1.40,4.21),(1.34,4.06),(1.53,4.27),(1.55,4.35),(1.61,4.38),
    (1.64,4.36),(1.64,4.32),(1.60,4.22),(1.67,4.22),(1.71,4.28),(1.73,4.35),(1.75,4.26),(1.76,4.22),(1.78,4.19),(1.73,4.16),
    (1.71,4.11),(1.64,4.11),(1.68,4.06),(1.81,4.10),(1.87,4.25),(1.84,4.10),(1.89,4.14),(1.95,4.31),(1.97,4.28),(1.98,4.29),
    (2.02,4.14),(2.20,4.22),(2.25,4.32),(1.81,4.04),(1.81,3.91),(1.84,3.92),(1.75,3.92),(1.89,3.90),(1.90,3.99),(1.89,3.84),
    (1.87,3.74),(1.30,3.88),(1.46,3.80),(1.52,3.82),(1.54,3.79),(1.67,3.78),(1.68,3.76),(1.71,3.75),(1.72,3.72),(1.67,3.73),
    (1.67,3.70),(1.70,3.69),(1.43,3.60),(1.59,3.59),(1.76,3.61),(1.82,3.61),(1.43,3.44),(1.67,3.50),(1.70,3.45),(1.88,3.50),
    (1.96,3.46),(1.59,3.40),(1.63,3.40),(1.86,3.40),(1.64,3.31),(1.62,3.25),(1.60,3.20),(1.67,3.00)]

b_homa_ir = [(1.74,5.26),(2.63,5.16),(3.09,5.14),(4.22,5.10),(2.51,4.99),(5.25,4.98),(2.71,4.86),(2.44,4.75),(2.51,4.72),(3.43,4.67),
    (0.93,4.66),(1.49,4.60),(1.52,4.56),(1.98,4.60),(2.34,4.61),(2.91,4.54),(0.79,4.53),(1.39,4.52),(1.49,4.48),(2.28,4.52),
    (2.57,4.51),(3.11,4.45),(3.47,4.43),(7.92,4.50),(0.73,4.37),(0.99,4.38),(1.78,4.36),(2.04,4.36),(0.79,4.31),(0.99,4.28),
    (0.89,4.26),(2.24,4.28),(3.03,4.31),(0.14,4.27),(4.89,4.30),(6.67,4.29),(4.12,4.24),(1.45,4.23),(1.49,4.23),(1.88,4.19),
    (2.08,4.17),(1.92,4.15),(2.08,4.15),(2.51,4.15),(0.59,4.11),(1.49,4.11),(2.67,4.11),(2.18,4.06),(2.97,4.06),(1.49,4.03),
    (1.05,3.91),(2.24,3.93),(3.07,3.89),(0.50,3.88),(0.10,3.79),(0.46,3.79),(1.05,3.80),(1.29,3.82),(2.44,3.78),(2.38,3.75),
    (2.28,3.73),(3.03,3.75),(4.26,3.85),(0.30,3.70),(0.69,3.70),(1.58,3.60),(2.48,3.61),(2.77,3.60),(2.83,3.59),(0.10,3.41),
    (0.44,3.41),(0.65,3.44),(0.89,3.45),(0.93,3.39),(1.13,3.50),(2.38,3.45),(1.39,3.26),(1.92,3.30),(0.79,3.20),(0.20,3.00)]

b_homa_hdl_log = [(-1.44,5.26),(-1.32,5.16),(-1.29,5.13),(-0.89,5.11),(-1.29,4.99),(-0.82,4.98),(-1.26,4.86),(-1.50,4.75),(-1.30,4.72),(-1.12,4.68),
    (-1.60,4.66),(-1.27,4.61),(-1.56,4.60),(-1.71,4.59),(-1.66,4.55),(-2.00,4.54),(-1.71,4.52),(-1.46,4.53),(-1.23,4.55),(-1.15,4.54),
    (-1.61,4.49),(-1.32,4.49),(-0.82,4.51),(-1.07,4.45),(-0.93,4.44),(-1.97,4.38),(-1.71,4.35),(-1.60,4.36),(-1.55,4.37),(-1.95,4.28),
    (-1.92,4.31),(-1.77,4.28),(-1.63,4.28),(-1.21,4.31),(-1.32,4.28),(-0.82,4.31),(-0.81,4.29),(-2.67,4.27),(-1.81,4.21),(-1.77,4.21),
    (-1.74,4.22),(-1.64,4.20),(-1.71,4.17),(-1.52,4.16),(-1.44,4.15),(-1.38,4.21),(-1.34,4.15),(-1.43,4.09),(-1.49,4.11),(-1.17,4.25),
    (-1.15,4.11),(-1.95,4.11),(-1.79,4.04),(-1.43,4.06),(-1.35,4.06),(-1.03,4.04),(-2.08,3.88),(-2.18,3.79),(-2.63,3.79),(-2.22,3.70),
    (-1.95,3.70),(-1.80,3.82),(-1.77,3.81),(-1.69,3.91),(-1.40,3.93),(-1.26,3.89),(-1.15,3.83),(-1.13,3.75),(-0.98,3.85),(-1.34,3.77),
    (-1.30,3.74),(-1.24,3.75),(-1.44,3.78),(-1.48,3.61),(-1.34,3.59),(-1.32,3.62),(-2.17,3.41),(-2.04,3.44),(-1.89,3.39),(-1.77,3.50),
    (-1.75,3.47),(-1.66,3.50),(-1.42,3.45),(-2.82,3.41),(-1.54,3.30),(-1.77,3.26),(-1.93,3.20),(-2.51,3.00)]

# per-panel labels and statistics (row-major)
section_a_panels = [
    dict(pts=a_weight_sds, xlabel="Weight-SDS", r="r=0.400", p="p<0.001", xlim=(-2.69, 8.52), xticks=[-2, 0, 2, 4, 6, 8], dec=3),
    dict(pts=a_bmi_sds, xlabel="BMI-SDS", r="r=0.416", p="p<0.001", xlim=(-2.75, 8.7), xticks=[-2, 0, 2, 4, 6, 8], dec=2),
    dict(pts=a_waist, xlabel="Waist (cm)", r="r=0.360", p="p<0.001", xlim=(13.7, 145.7), xticks=[25, 50, 75, 100, 125], dec=1),
    dict(pts=a_systolic, xlabel="Systolic blood pressure (mmHg)", r="r=0.338", p="p<0.001", xlim=(76.6, 154), xticks=[80, 100, 120, 140], dec=0),
    dict(pts=a_diastolic, xlabel="Diastolic blood pressure (mmHg)", r="r=0.407", p="p<0.001", xlim=(36.1, 113.7), xticks=[40, 60, 80, 100], dec=0),
    dict(pts=a_map, xlabel="MAP (mmHg)", r="r=0.429", p="p<0.001", xlim=(46.6, 113.6), xticks=[50, 60, 70, 80, 90, 100, 110], dec=2),
    dict(pts=a_tg_log, xlabel="TG (log)", r="r=0.308", p="p<0.001", xlim=(1.139, 2.479), xticks=[1.25, 1.5, 1.75, 2.0, 2.25], dec=2),
    dict(pts=a_homa_ir, xlabel="HOMA-IR", r="r=0.352", p="p<0.001", xlim=(-0.56, 10.63), xticks=[0, 2, 4, 6, 8, 10], dec=2),
    dict(pts=a_homa_hdl_log, xlabel="HOMA-IR-to-HDL ratio (log)", r="r=0.376", p="p<0.001", xlim=(-3.62, -0.29), xticks=[-3.5, -3, -2.5, -2, -1.5, -1, -0.5], dec=2),
]
section_b_panels = [
    dict(pts=b_weight_sds, xlabel="Weight-SDS", r="r=0.448", p="p<0.001", xlim=(-2.28, 5.45), xticks=[-2, 0, 2, 4], dec=3),
    dict(pts=b_bmi_sds, xlabel="BMI-SDS", r="r=0.495", p="p<0.001", xlim=(-2.32, 5.43), xticks=[-2, 0, 2, 4], dec=2),
    dict(pts=b_waist, xlabel="Waist (cm)", r="r=0.375", p="p<0.001", xlim=(46.2, 123.9), xticks=[60, 80, 100, 120], dec=1),
    dict(pts=b_systolic, xlabel="Systolic blood pressure (mmHg)", r="r=0.440", p="p<0.001", xlim=(66.4, 154.6), xticks=[80, 100, 120, 140], dec=0),
    dict(pts=b_diastolic, xlabel="Diastolic blood pressure (mmHg)", r="r=0.261", p="p<0.05", xlim=(37.2, 92.6), xticks=[40, 50, 60, 70, 80, 90], dec=0),
    dict(pts=b_map, xlabel="MAP (mmHg)", r="r=0.378", p="p<0.001", xlim=(47.5, 102.8), xticks=[50, 60, 70, 80, 90, 100], dec=2),
    dict(pts=b_tg_log, xlabel="TG (log)", r="r=0.398", p="p<0.001", xlim=(1.139, 2.47), xticks=[1.25, 1.5, 1.75, 2.0, 2.25], dec=2),
    dict(pts=b_homa_ir, xlabel="HOMA-IR", r="r=0.380", p="p<0.001", xlim=(-0.42, 8.47), xticks=[0, 2, 4, 6, 8], dec=2),
    dict(pts=b_homa_hdl_log, xlabel="HOMA-IR-to-HDL ratio (log)", r="r=0.437", p="p<0.001", xlim=(-3.12, -0.36), xticks=[-3, -2.5, -2, -1.5, -1, -0.5], dec=2),
]

title_a = "BASELINE VISIT (N=199): ASSOCIATIONS WITH BASELINE fT3"
title_b = "FOLLOW-UP VISIT (N=87): LONGITUDINAL ASSOCIATIONS WITH BASELINE fT3"

# ---------------- layout (pixels) ----------------
W, H = 1181, 2231
col_left = [44, 442, 840]
col_width = [339, 339, 338]
rows_a = [(52, 301), (406, 302), (760, 303)]
rows_b = [(1191, 302), (1540, 299), (1893, 301)]

sns.set_theme(style="white")
plt.rcParams['font.family'] = ['Liberation Sans', 'DejaVu Sans']

NARROW = ['Liberation Sans Narrow', 'Liberation Sans', 'DejaVu Sans']
TEXTFONT = ['Open Sans', 'DejaVu Sans']


def spss_label(v, dec):
    s = f"{v:.{dec}f}".replace(".", ",")
    if dec > 0:
        if s.startswith("0,"):
            s = s[1:]
        elif s.startswith("-0,"):
            s = "-" + s[2:]
    return s


def draw_panel(fig, spec, left, top, w, h, ylim, yticks, ylabel_dx, txt_dx, txt_dy):
    ax = fig.add_axes([left / W, 1 - (top + h) / H, w / W, h / H])
    x, y = np.array(spec["pts"]).T
    ax.set_xlim(*spec["xlim"])
    ax.set_ylim(*ylim)
    sns.regplot(x=x, y=y, ax=ax, ci=None, truncate=False,
                scatter_kws=dict(s=24, color="#bdbdbd", edgecolor="#404040", linewidths=0.75, alpha=1, zorder=2),
                line_kws=dict(color="#505050", lw=0.9, zorder=3))
    ax.set_xlim(*spec["xlim"])
    ax.set_ylim(*ylim)

    ax.set_xticks(spec["xticks"], [spss_label(v, spec["dec"]) for v in spec["xticks"]])
    ax.set_yticks(yticks, [spss_label(v, 2) for v in yticks])
    ax.tick_params(axis="both", which="major", length=3, width=0.7, color="#555555",
                   labelsize=6.5, labelcolor="#333333", pad=1.5, left=True, bottom=True)
    for lab in ax.get_xticklabels() + ax.get_yticklabels():
        lab.set_family(NARROW)
    for sp in ax.spines.values():
        sp.set_color("#8a8a8a")
        sp.set_linewidth(1.1)

    ax.set_xlabel(spec["xlabel"], fontsize=11, fontweight="bold", color="#222222")
    ax.xaxis.set_label_coords(0.5, -31 / h)
    ax.xaxis.label.set_va("center")
    ax.set_ylabel("FT3 (pg/mL)", fontsize=10, fontweight="bold", color="#222222")
    ax.yaxis.set_label_coords(-ylabel_dx / w, 0.5)
    ax.yaxis.label.set_va("center")

    ax.text(txt_dx / w, 1 - txt_dy[0] / h, spec["r"], transform=ax.transAxes, fontsize=16.5,
            family=TEXTFONT, color="#262626", va="center", ha="left")
    ax.text(txt_dx / w, 1 - txt_dy[1] / h, spec["p"], transform=ax.transAxes, fontsize=16.5,
            family=TEXTFONT, color="#262626", va="center", ha="left")
    return ax


fig = plt.figure(figsize=(W / 100, H / 100), dpi=100)
fig.patch.set_facecolor("white")

# section headers
fig.text(2 / W, 1 - 14 / H, "A", fontsize=19, fontweight="bold", ha="left", va="center", color="#111111")
fig.text(123 / W, 1 - 21 / H, title_a, fontsize=15.5, family=TEXTFONT, ha="left", va="center", color="#222222")
fig.add_artist(Line2D([8 / W, 1176 / W], [1 - 33 / H, 1 - 33 / H], color="#dadada", lw=1.6))

fig.text(2 / W, 1 - 1142 / H, "B", fontsize=19, fontweight="bold", ha="left", va="center", color="#111111")
fig.text(105 / W, 1 - 1142 / H, title_b, fontsize=15.5, family=TEXTFONT, ha="left", va="center", color="#222222")
fig.add_artist(Line2D([5 / W, 1181 / W], [1 - 1164 / H, 1 - 1164 / H], color="#dadada", lw=1.6))

yticks_a = [3.0, 3.5, 4.0, 4.5, 5.0, 5.5, 6.0]
yticks_b = [3.0, 3.5, 4.0, 4.5, 5.0, 5.5]

for i, spec in enumerate(section_a_panels):
    r, c = divmod(i, 3)
    top, h = rows_a[r]
    dy = (17, 48) if r == 0 else (25, 58)
    draw_panel(fig, spec, col_left[c], top, col_width[c], h, (2.83, 6.17), yticks_a,
               29 if c == 0 else 36, [16, 18, 20][c], dy)

for i, spec in enumerate(section_b_panels):
    r, c = divmod(i, 3)
    top, h = rows_b[r]
    draw_panel(fig, spec, col_left[c], top, col_width[c], h, (2.85, 5.65), yticks_b,
               36 if c == 0 else 36, [26, 21, 16][c], (24, 57))

fig.savefig("out.png", dpi=100, facecolor="white")
